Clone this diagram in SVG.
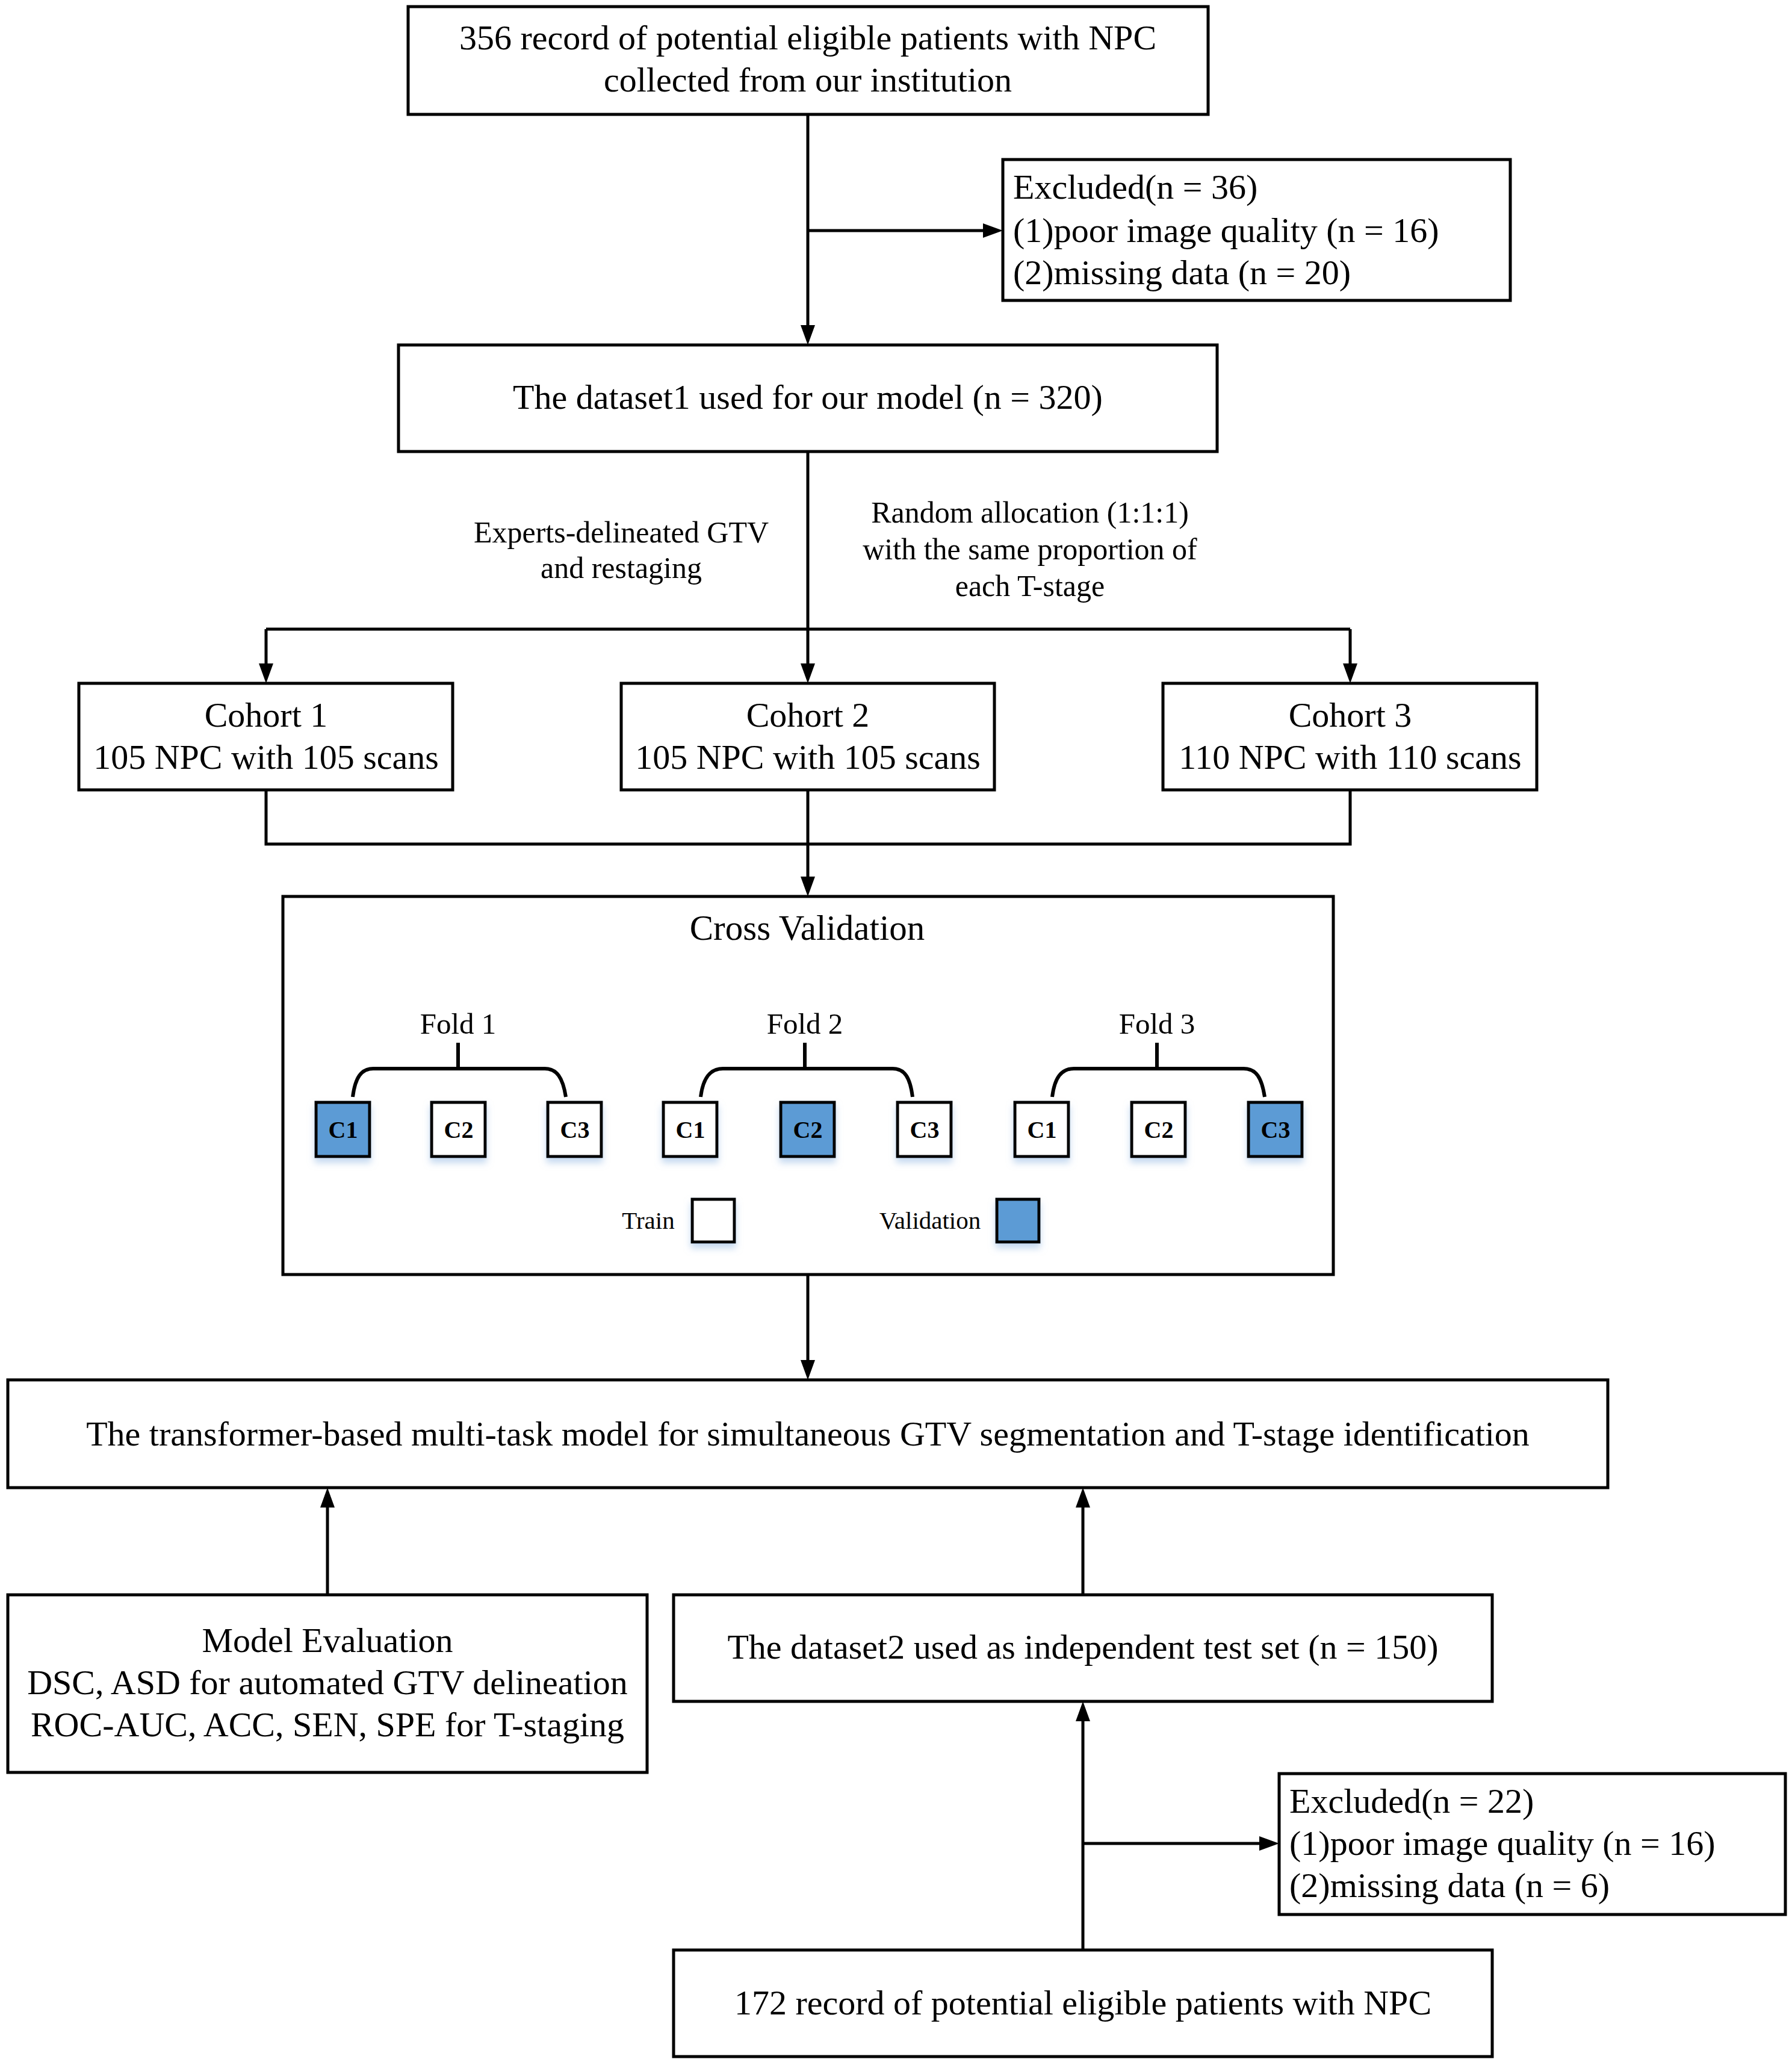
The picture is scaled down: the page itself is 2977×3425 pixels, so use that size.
<svg xmlns="http://www.w3.org/2000/svg" width="2977" height="3425" viewBox="0 0 2977 3425">
<style>
.box{fill:#fff;stroke:#000;stroke-width:5}
.t{font-family:"Liberation Serif","Times New Roman",serif;font-size:58px;fill:#000}
.s{font-family:"Liberation Serif","Times New Roman",serif;font-size:50px;fill:#000}
.c{font-family:"Liberation Serif","Times New Roman",serif;font-size:40px;font-weight:bold;fill:#000}
.m{text-anchor:middle}
.ln{fill:none;stroke:#000;stroke-width:5}
.br{fill:none;stroke:#000;stroke-width:6}
.cb{fill:#fff;stroke:#000;stroke-width:5;filter:url(#sh)}
.cv{fill:#5b9bd5;stroke:#000;stroke-width:5;filter:url(#sh)}
</style>
<defs>
<marker id="ah" markerUnits="userSpaceOnUse" markerWidth="33" markerHeight="24" refX="8" refY="12" orient="auto">
<path d="M0 0 L33 12 L0 24 z" fill="#000"/>
</marker>
<filter id="sh" x="-30%" y="-30%" width="160%" height="170%">
<feDropShadow dx="0" dy="8" stdDeviation="6" flood-color="#9dbfe6" flood-opacity="0.6"/>
</filter>
</defs>
<rect width="2977" height="3425" fill="#fff"/>

<g id="connectors">
<path class="ln" d="M1342 190 L1342 548" marker-end="url(#ah)"/>
<path class="ln" d="M1342 383 L1641 383" marker-end="url(#ah)"/>
<path class="ln" d="M1342 750 L1342 1110" marker-end="url(#ah)"/>
<path class="ln" d="M442 1045 L2243 1045"/>
<path class="ln" d="M442 1045 L442 1110" marker-end="url(#ah)"/>
<path class="ln" d="M2243 1045 L2243 1110" marker-end="url(#ah)"/>
<path class="ln" d="M442 1312 L442 1402 L2243 1402 L2243 1312"/>
<path class="ln" d="M1342 1312 L1342 1464" marker-end="url(#ah)"/>
<path class="ln" d="M1342 2117 L1342 2267" marker-end="url(#ah)"/>
<path class="ln" d="M544 2649 L544 2496" marker-end="url(#ah)"/>
<path class="ln" d="M1799 2649 L1799 2496" marker-end="url(#ah)"/>
<path class="ln" d="M1799 3239 L1799 2851" marker-end="url(#ah)"/>
<path class="ln" d="M1799 3062 L2100 3062" marker-end="url(#ah)"/>
</g>

<g id="n-source1">
<rect class="box" x="678" y="11" width="1329" height="179"/>
<text class="t m" x="1342" y="82">356 record of potential eligible patients with NPC</text>
<text class="t m" x="1342" y="152">collected from our institution</text>
</g>

<g id="n-excluded1">
<rect class="box" x="1666" y="265" width="843" height="234"/>
<text class="t" x="1683" y="330">Excluded(n = 36)</text>
<text class="t" x="1683" y="402">(1)poor image quality (n = 16)</text>
<text class="t" x="1683" y="472">(2)missing data (n = 20)</text>
</g>

<g id="n-dataset1">
<rect class="box" x="662" y="573" width="1360" height="177"/>
<text class="t m" x="1342" y="679">The dataset1 used for our model (n = 320)</text>
</g>

<g id="labels">
<text class="s m" x="1032" y="901">Experts-delineated GTV</text>
<text class="s m" x="1032" y="960">and restaging</text>
<text class="s m" x="1711" y="868">Random allocation (1:1:1)</text>
<text class="s m" x="1711" y="929">with the same proportion of</text>
<text class="s m" x="1711" y="990">each T-stage</text>
</g>

<g id="n-cohort1">
<rect class="box" x="131" y="1135" width="621" height="177"/>
<text class="t m" x="442" y="1207">Cohort 1</text>
<text class="t m" x="442" y="1277">105 NPC with 105 scans</text>
</g>
<g id="n-cohort2">
<rect class="box" x="1032" y="1135" width="620" height="177"/>
<text class="t m" x="1342" y="1207">Cohort 2</text>
<text class="t m" x="1342" y="1277">105 NPC with 105 scans</text>
</g>
<g id="n-cohort3">
<rect class="box" x="1932" y="1135" width="621" height="177"/>
<text class="t m" x="2243" y="1207">Cohort 3</text>
<text class="t m" x="2243" y="1277">110 NPC with 110 scans</text>
</g>

<g id="n-crossval">
<rect class="box" x="470" y="1489" width="1745" height="628"/>
<text class="t m" x="1341" y="1561" style="font-size:59px">Cross Validation</text>
<text class="s m" x="761" y="1717" style="font-size:49px">Fold 1</text>
<text class="s m" x="1337" y="1717" style="font-size:49px">Fold 2</text>
<text class="s m" x="1922" y="1717" style="font-size:49px">Fold 3</text>
<path class="br" d="M761 1732 L761 1775"/>
<path class="br" d="M586 1822 C590 1790 600 1775 620 1775 L905 1775 C925 1775 935 1790 940 1822"/>
<path class="br" d="M1337 1732 L1337 1775"/>
<path class="br" d="M1164 1822 C1168 1790 1180 1775 1201 1775 L1483 1775 C1503 1775 1512 1790 1516 1822"/>
<path class="br" d="M1922 1732 L1922 1775"/>
<path class="br" d="M1748 1822 C1752 1790 1763 1775 1784 1775 L2066 1775 C2087 1775 2096 1790 2101 1822"/>
<rect class="cv" x="525" y="1831" width="89" height="90"/>
<rect class="cb" x="717" y="1831" width="89" height="90"/>
<rect class="cb" x="910" y="1831" width="89" height="90"/>
<rect class="cb" x="1102" y="1831" width="89" height="90"/>
<rect class="cv" x="1297" y="1831" width="89" height="90"/>
<rect class="cb" x="1491" y="1831" width="89" height="90"/>
<rect class="cb" x="1686" y="1831" width="89" height="90"/>
<rect class="cb" x="1880" y="1831" width="89" height="90"/>
<rect class="cv" x="2074" y="1831" width="89" height="90"/>
<text class="c m" x="570" y="1890">C1</text>
<text class="c m" x="762" y="1890">C2</text>
<text class="c m" x="955" y="1890">C3</text>
<text class="c m" x="1147" y="1890">C1</text>
<text class="c m" x="1342" y="1890">C2</text>
<text class="c m" x="1536" y="1890">C3</text>
<text class="c m" x="1731" y="1890">C1</text>
<text class="c m" x="1925" y="1890">C2</text>
<text class="c m" x="2119" y="1890">C3</text>
<text class="s m" x="1077" y="2041" style="font-size:41px">Train</text>
<rect class="cb" x="1150" y="1992" width="70" height="71"/>
<text class="s m" x="1545" y="2041" style="font-size:41px">Validation</text>
<rect class="cv" x="1656" y="1992" width="70" height="71"/>
</g>

<g id="n-model">
<rect class="box" x="13" y="2292" width="2658" height="179"/>
<text class="t m" x="1342" y="2401">The transformer-based multi-task model for simultaneous GTV segmentation and T-stage identification</text>
</g>

<g id="n-evaluation">
<rect class="box" x="13" y="2649" width="1062" height="295"/>
<text class="t m" x="544" y="2744">Model Evaluation</text>
<text class="t m" x="544" y="2814">DSC, ASD for automated GTV delineation</text>
<text class="t m" x="544" y="2884">ROC-AUC, ACC, SEN, SPE for T-staging</text>
</g>

<g id="n-dataset2">
<rect class="box" x="1119" y="2649" width="1360" height="177"/>
<text class="t m" x="1799" y="2755">The dataset2 used as independent test set (n = 150)</text>
</g>

<g id="n-excluded2">
<rect class="box" x="2125" y="2946" width="841" height="234"/>
<text class="t" x="2142" y="3011">Excluded(n = 22)</text>
<text class="t" x="2142" y="3081">(1)poor image quality (n = 16)</text>
<text class="t" x="2142" y="3151">(2)missing data (n = 6)</text>
</g>

<g id="n-source2">
<rect class="box" x="1119" y="3239" width="1360" height="177"/>
<text class="t m" x="1799" y="3346">172 record of potential eligible patients with NPC</text>
</g>
</svg>
